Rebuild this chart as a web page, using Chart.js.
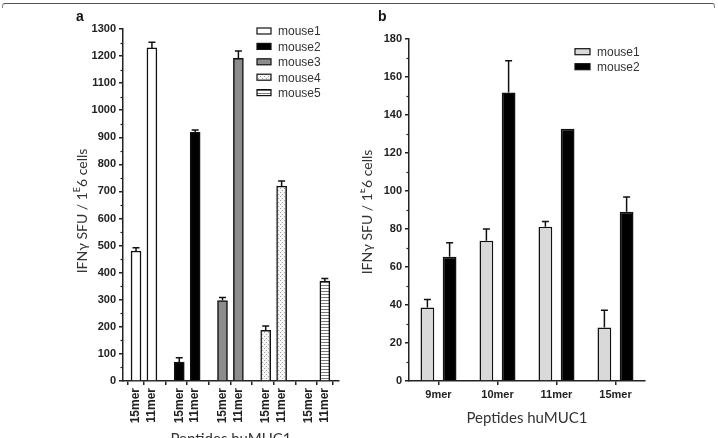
<!DOCTYPE html>
<html>
<head>
<meta charset="utf-8">
<script src="https://cdn.jsdelivr.net/npm/chart.js@4.4.0/dist/chart.umd.min.js"></script>
<style>
  body { margin: 0; background: #fff; }
  #wrap { position: relative; width: 718px; height: 438px; overflow: hidden; background: #fff; }
  #frame { position: absolute; left: 2px; right: 3px; top: 3px; height: 4px;
           border-top: 1.5px solid #555; border-left: 1px solid #888; border-right: 1px solid #888;
           border-radius: 3px 3px 0 0; }
  #boxA { position: absolute; left: 0; top: 0; width: 360px; height: 438px; }
  #boxB { position: absolute; left: 360px; top: 0; width: 358px; height: 438px; }
</style>
</head>
<body>
<div id="wrap">
  <div id="boxA"><canvas id="chartA" width="360" height="438"></canvas></div>
  <div id="boxB"><canvas id="chartB" width="358" height="438"></canvas></div>
  <div id="frame"></div>
</div>
<script>
// ---- panel a data ----
const peptidesA = ['15mer', '11mer'];
const miceA = ['mouse1', 'mouse2', 'mouse3', 'mouse4', 'mouse5'];
const mouse1A = [480, 1230];
const mouse2A = [70, 918];
const mouse3A = [297, 1192];
const mouse4A = [187, 720];
const mouse5A = [0, 369];
const errMouse1A = [12, 21];
const errMouse2A = [16, 9];
const errMouse3A = [11, 27];
const errMouse4A = [16, 19];
const errMouse5A = [0, 10];

// ---- panel b data ----
const peptidesB = ['9mer', '10mer', '11mer', '15mer'];
const miceB = ['mouse1', 'mouse2'];
const mouse1B = [38.7, 73.8, 81.2, 28.1];
const mouse2B = [65.4, 151.8, 132.7, 89.1];
const errMouse1B = [4.2, 6.2, 2.8, 9.2];
const errMouse2B = [7.3, 16.7, 0, 7.7];

const tickFont = { family: "'Liberation Sans', Arial, sans-serif", size: 11, weight: 'bold' };
const titleFamily = "Lato, 'Open Sans', sans-serif";

// fill patterns for mouse4 (dots) and mouse5 (stripes)
function makePattern(w, h, draw) {
    const c = document.createElement('canvas');
    c.width = w; c.height = h;
    const g = c.getContext('2d');
    draw(g);
    return g.createPattern(c, 'repeat');
}
const dotPattern = makePattern(4, 4, g => {
    g.fillStyle = '#f6f6f6'; g.fillRect(0, 0, 4, 4);
    g.fillStyle = '#a8a8a8'; g.fillRect(0, 0, 1, 1); g.fillRect(2, 2, 1, 1);
});
const stripePattern = makePattern(4, 3, g => {
    g.fillStyle = '#ffffff'; g.fillRect(0, 0, 4, 3);
    g.fillStyle = '#7a7a7a'; g.fillRect(0, 0, 4, 1);
});

// x position on the panel a axis: pairs of bars, grouped per mouse
const groupStep = 2.72;
function posA(g, k) { return g * groupStep + k; }
const tickPosA = [];
miceA.forEach((m, g) => peptidesA.forEach((p, k) => tickPosA.push(posA(g, k))));

// draws error bars, minor ticks, titles and legend
const decorPlugin = {
    id: 'decor',
    afterDatasetsDraw(chart, args, opts) {
        const ctx = chart.ctx;
        const y = chart.scales.y;
        ctx.save();
        ctx.strokeStyle = '#111';
        ctx.lineWidth = 1.5;
        chart.data.datasets.forEach((ds, di) => {
            const meta = chart.getDatasetMeta(di);
            meta.data.forEach((el, j) => {
                const e = opts.errors[di][j];
                if (!e) return;
                const raw = ds.data[j];
                const v = typeof raw === 'object' ? raw.y : raw;
                const top = y.getPixelForValue(v + e);
                ctx.beginPath();
                ctx.moveTo(el.x, el.y);
                ctx.lineTo(el.x, top);
                ctx.moveTo(el.x - opts.cap, top);
                ctx.lineTo(el.x + opts.cap, top);
                ctx.stroke();
            });
        });
        ctx.restore();
    },
    afterDraw(chart, args, opts) {
        const ctx = chart.ctx;
        const y = chart.scales.y;
        const area = chart.chartArea;
        ctx.save();
        // minor ticks
        ctx.strokeStyle = '#222';
        ctx.lineWidth = 1.2;
        for (let v = opts.minor; v < y.max; v += opts.minor * 2) {
            const py = Math.round(y.getPixelForValue(v)) + 0.5;
            ctx.beginPath();
            ctx.moveTo(area.left - 2.5, py);
            ctx.lineTo(area.left, py);
            ctx.stroke();
        }
        // panel letter
        ctx.fillStyle = '#111';
        ctx.font = "bold 14px 'Liberation Sans', Arial, sans-serif";
        ctx.textAlign = 'left';
        ctx.textBaseline = 'middle';
        ctx.fillText(opts.letter, opts.letterX, 17);
        // y title with superscript E
        ctx.fillStyle = '#333';
        const big = '14px ' + titleFamily;
        const small = '9px ' + titleFamily;
        const parts = [['IFN\u03b3 SFU / 1', big, 0], ['E', small, -5], ['6 cells', big, 0]];
        let total = 0;
        parts.forEach(p => { ctx.font = p[1]; total += ctx.measureText(p[0]).width; });
        ctx.translate(opts.yTitleX, opts.yTitleY);
        ctx.rotate(-Math.PI / 2);
        let x = -total / 2;
        parts.forEach(p => {
            ctx.font = p[1];
            ctx.fillText(p[0], x, p[2]);
            x += ctx.measureText(p[0]).width;
        });
        ctx.setTransform(1, 0, 0, 1, 0, 0);
        // x title
        ctx.font = '15px ' + titleFamily;
        ctx.textAlign = 'center';
        ctx.fillText('Peptides huMUC1', opts.xTitleX, opts.xTitleY);
        // legend
        ctx.textAlign = 'left';
        ctx.font = "12px 'Liberation Sans', Arial, sans-serif";
        chart.data.datasets.forEach((ds, i) => {
            const ry = opts.legY + i * opts.legStep;
            ctx.fillStyle = ds.backgroundColor;
            ctx.fillRect(opts.legX, ry - 3, opts.legW, 6);
            ctx.strokeStyle = '#111';
            ctx.lineWidth = 1.2;
            ctx.strokeRect(opts.legX, ry - 3, opts.legW, 6);
            ctx.fillStyle = '#333';
            ctx.fillText(ds.label, opts.legX + opts.legW + 7, ry + 1);
        });
        ctx.restore();
    }
};

function yAxis(max, step, width) {
    return {
        min: 0, max: max,
        ticks: { stepSize: step, color: '#222', font: tickFont, padding: 3, callback: v => String(v) },
        grid: { drawOnChartArea: false, tickLength: 4, color: '#222', lineWidth: 1.5 },
        border: { color: '#222', width: 1.5 },
        afterFit: s => { s.width = width; }
    };
}

// ---- panel a ----
const colorsA = ['#ffffff', '#000000', '#8c8c8c', dotPattern, stripePattern];
const valuesA = [mouse1A, mouse2A, mouse3A, mouse4A, mouse5A];
new Chart(document.getElementById('chartA'), {
    type: 'bar',
    data: {
        datasets: miceA.map((m, g) => ({
            label: m,
            data: valuesA[g].map((v, k) => ({ x: posA(g, k), y: v })),
            backgroundColor: colorsA[g],
            borderColor: '#111',
            borderWidth: 1.5,
            borderSkipped: 'bottom',
            barThickness: 10,
            grouped: false
        }))
    },
    options: {
        responsive: false,
        animation: false,
        layout: { autoPadding: false, padding: { left: 0, right: 21, top: 29, bottom: 0 } },
        plugins: {
            legend: { display: false },
            tooltip: { enabled: false },
            decor: {
                errors: [errMouse1A, errMouse2A, errMouse3A, errMouse4A, errMouse5A],
                cap: 3.5, minor: 50, letter: 'a', letterX: 76,
                yTitleX: 82, yTitleY: 211, xTitleX: 231, xTitleY: 439,
                legX: 257, legY: 31, legStep: 15.4, legW: 14
            }
        },
        scales: {
            x: {
                type: 'linear',
                offset: false,
                min: -0.82, max: 12.77,
                afterBuildTicks: s => { s.ticks = tickPosA.map(v => ({ value: v })); },
                ticks: {
                    autoSkip: false, minRotation: 90, maxRotation: 90, padding: 3,
                    color: '#222', font: { ...tickFont, size: 12 },
                    callback: (v, i) => peptidesA[i % 2]
                },
                grid: { drawOnChartArea: false, tickLength: 4, color: '#222', lineWidth: 1.5 },
                border: { color: '#222', width: 1.5 },
                afterFit: s => { s.height = 57; }
            },
            y: yAxis(1300, 100, 123)
        }
    },
    plugins: [decorPlugin]
});

// ---- panel b ----
const colorsB = ['#d9d9d9', '#000000'];
const valuesB = [mouse1B, mouse2B];
new Chart(document.getElementById('chartB'), {
    type: 'bar',
    data: {
        labels: peptidesB,
        datasets: miceB.map((m, i) => ({
            label: m,
            data: valuesB[i],
            backgroundColor: colorsB[i],
            borderColor: '#111',
            borderWidth: 1.5,
            borderSkipped: 'bottom',
            categoryPercentage: 0.753,
            barPercentage: 0.62
        }))
    },
    options: {
        responsive: false,
        animation: false,
        layout: { autoPadding: false, padding: { left: 0, right: 73, top: 39, bottom: 0 } },
        plugins: {
            legend: { display: false },
            tooltip: { enabled: false },
            decor: {
                errors: [errMouse1B, errMouse2B],
                cap: 3.5, minor: 10, letter: 'b', letterX: 18,
                yTitleX: 7, yTitleY: 212, xTitleX: 167, xTitleY: 418,
                legX: 215, legY: 51.7, legStep: 15, legW: 15
            }
        },
        scales: {
            x: {
                ticks: { color: '#222', font: tickFont, padding: 3 },
                grid: { drawOnChartArea: false, offset: false, tickLength: 4, color: '#222', lineWidth: 1.5 },
                border: { color: '#222', width: 1.5 },
                afterFit: s => { s.height = 57; }
            },
            y: yAxis(180, 20, 49)
        }
    },
    plugins: [decorPlugin]
});
</script>
</body>
</html>
